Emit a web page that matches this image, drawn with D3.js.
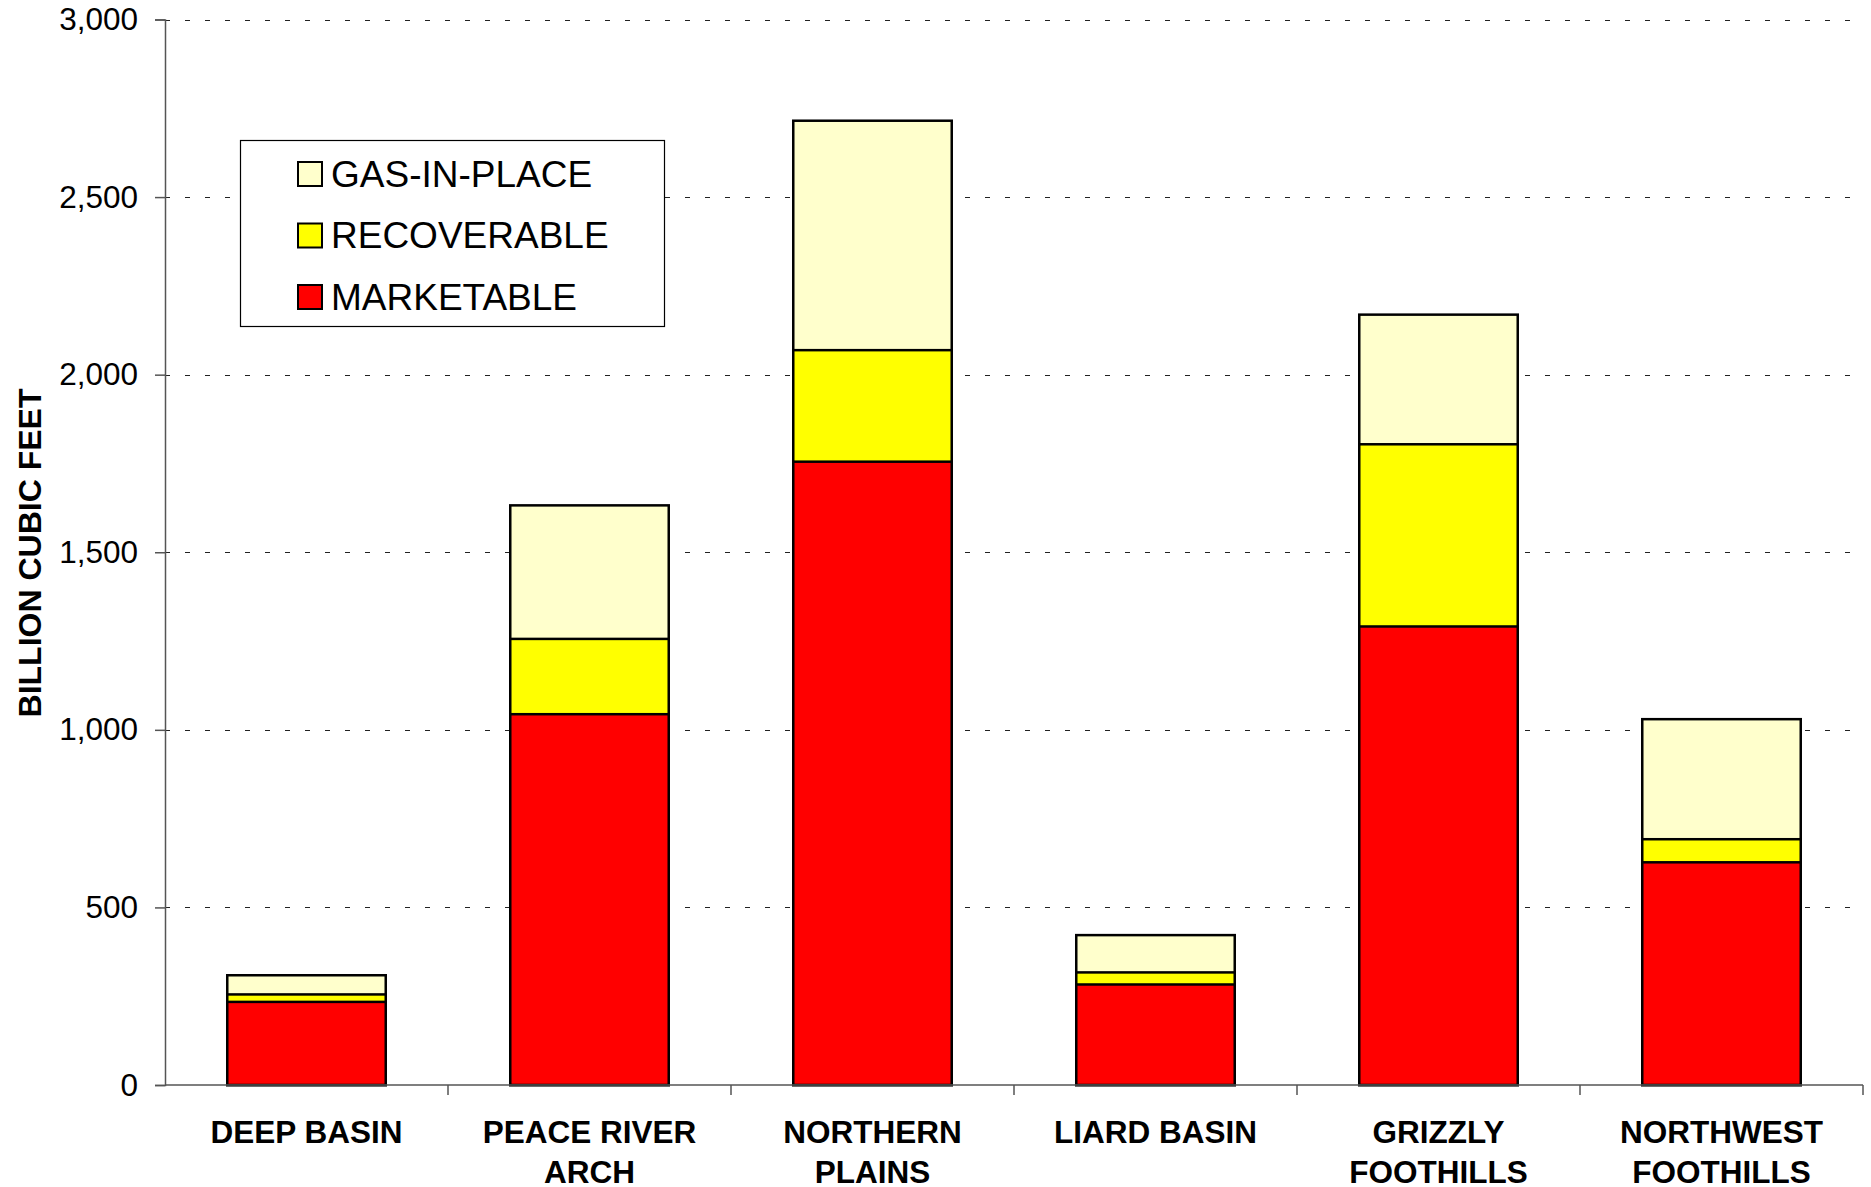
<!DOCTYPE html>
<html>
<head>
<meta charset="utf-8">
<script src="https://cdn.jsdelivr.net/npm/d3@7"></script>
<style>
    body { margin: 0; background: #fff; }
    svg { display: block; font-family: "Liberation Sans", Arial, sans-serif; }
</style>
</head>
<body>
<div class="gas-plot"></div>
<script>
//data (billion cubic feet)
const regions = ['DEEP BASIN', 'PEACE RIVER ARCH', 'NORTHERN PLAINS', 'LIARD BASIN', 'GRIZZLY FOOTHILLS', 'NORTHWEST FOOTHILLS'];
const regionLines = [['DEEP BASIN'], ['PEACE RIVER', 'ARCH'], ['NORTHERN', 'PLAINS'], ['LIARD BASIN'], ['GRIZZLY', 'FOOTHILLS'], ['NORTHWEST', 'FOOTHILLS']];
const gasInPlace = [309, 1632, 2715, 422, 2169, 1030];
const recoverable = [255, 1256, 2069, 317, 1804, 692];
const marketable = [234, 1044, 1755, 283, 1291, 627];
const seriesNames = ['GAS-IN-PLACE', 'RECOVERABLE', 'MARKETABLE'];
const yTicks = [0, 500, 1000, 1500, 2000, 2500, 3000];

const colors = {'GAS-IN-PLACE': '#FFFFCC', 'RECOVERABLE': '#FFFF00', 'MARKETABLE': '#FF0000'};

const width = 1871;
const height = 1187;
const margin = {left: 165, top: 19.5, right: 8, bottom: 102};

const svg = d3.select('.gas-plot')
    .append('svg')
    .attr('width', width)
    .attr('height', height);

const x = d3.scaleBand()
    .domain(regions)
    .range([margin.left, width - margin.right])
    .paddingInner(0.44)
    .paddingOuter(0.22);

const y = d3.scaleLinear()
    .domain([0, 3000])
    .range([height - margin.bottom, margin.top]);

//dashed gridlines
svg.append('g')
    .selectAll('line')
    .data(yTicks.filter(d => d > 0))
    .enter()
    .append('line')
    .attr('x1', margin.left)
    .attr('x2', width - margin.right)
    .attr('y1', d => Math.round(y(d)) + 0.5)
    .attr('y2', d => Math.round(y(d)) + 0.5)
    .attr('stroke', '#222')
    .attr('stroke-dasharray', '5,15');

//bars - the three series overlap, tallest drawn first
const series = [
    {name: 'GAS-IN-PLACE', values: gasInPlace},
    {name: 'RECOVERABLE', values: recoverable},
    {name: 'MARKETABLE', values: marketable}
];

series.forEach(s => {
    svg.append('g')
        .selectAll('rect')
        .data(s.values)
        .enter()
        .append('rect')
        .attr('x', (d, i) => x(regions[i]))
        .attr('width', x.bandwidth())
        .attr('y', d => y(d))
        .attr('height', d => y(0) - y(d))
        .attr('fill', colors[s.name])
        .attr('stroke', '#000')
        .attr('stroke-width', 2.5);
});

//y axis
const yAxis = svg.append('g')
    .attr('transform', `translate(${margin.left},0)`)
    .call(d3.axisLeft(y).tickValues(yTicks).tickFormat(d3.format(',')).tickSize(10).tickPadding(17));
yAxis.select('.domain').attr('stroke', '#555').attr('stroke-width', 1.5);
yAxis.selectAll('.tick line').attr('stroke', '#555').attr('stroke-width', 1.5);
yAxis.selectAll('.tick text').attr('font-size', 31.5).attr('fill', '#000').attr('font-family', 'Liberation Sans, Arial, sans-serif');

//x axis with ticks between categories
const xAxis = svg.append('g')
    .attr('transform', `translate(0,${y(0)})`);
xAxis.append('line')
    .attr('x1', margin.left)
    .attr('x2', width - margin.right)
    .attr('stroke', '#555')
    .attr('stroke-width', 1.5);
xAxis.selectAll('.sep')
    .data(regions)
    .enter()
    .append('line')
    .attr('class', 'sep')
    .attr('x1', d => x(d) + x.bandwidth() + x.step() * x.paddingInner() / 2)
    .attr('x2', d => x(d) + x.bandwidth() + x.step() * x.paddingInner() / 2)
    .attr('y1', 0)
    .attr('y2', 10)
    .attr('stroke', '#555')
    .attr('stroke-width', 1.5);

//category labels
const labels = svg.append('g')
    .selectAll('text')
    .data(regions)
    .enter()
    .append('text')
    .attr('text-anchor', 'middle')
    .attr('font-size', 31.5)
    .attr('font-weight', 'bold')
    .attr('x', d => x(d) + x.bandwidth() / 2)
    .attr('y', 1143);
labels.each(function(d, i) {
    d3.select(this).selectAll('tspan')
        .data(regionLines[i])
        .enter()
        .append('tspan')
        .attr('x', x(d) + x.bandwidth() / 2)
        .attr('dy', (t, j) => j === 0 ? 0 : 40)
        .text(t => t);
});

//y axis title
svg.append('text')
    .attr('transform', 'translate(41,553) rotate(-90)')
    .attr('text-anchor', 'middle')
    .attr('font-size', 32)
    .attr('font-weight', 'bold')
    .text('BILLION CUBIC FEET');

//legend
const legend = svg.append('g');
legend.append('rect')
    .attr('x', 240.5)
    .attr('y', 140.5)
    .attr('width', 424)
    .attr('height', 186)
    .attr('fill', '#fff')
    .attr('stroke', '#000')
    .attr('stroke-width', 1.2);

const legendY = d3.scalePoint()
    .domain(seriesNames)
    .range([174, 297]);

const items = legend.selectAll('.item')
    .data(seriesNames)
    .enter()
    .append('g')
    .attr('transform', d => `translate(298,${legendY(d)})`);
items.append('rect')
    .attr('x', 0)
    .attr('y', -12)
    .attr('width', 24)
    .attr('height', 24)
    .attr('fill', d => colors[d])
    .attr('stroke', '#000')
    .attr('stroke-width', 2);
items.append('text')
    .attr('x', 33)
    .attr('y', 12.5)
    .attr('font-size', 37)
    .text(d => d);
</script>
</body>
</html>
